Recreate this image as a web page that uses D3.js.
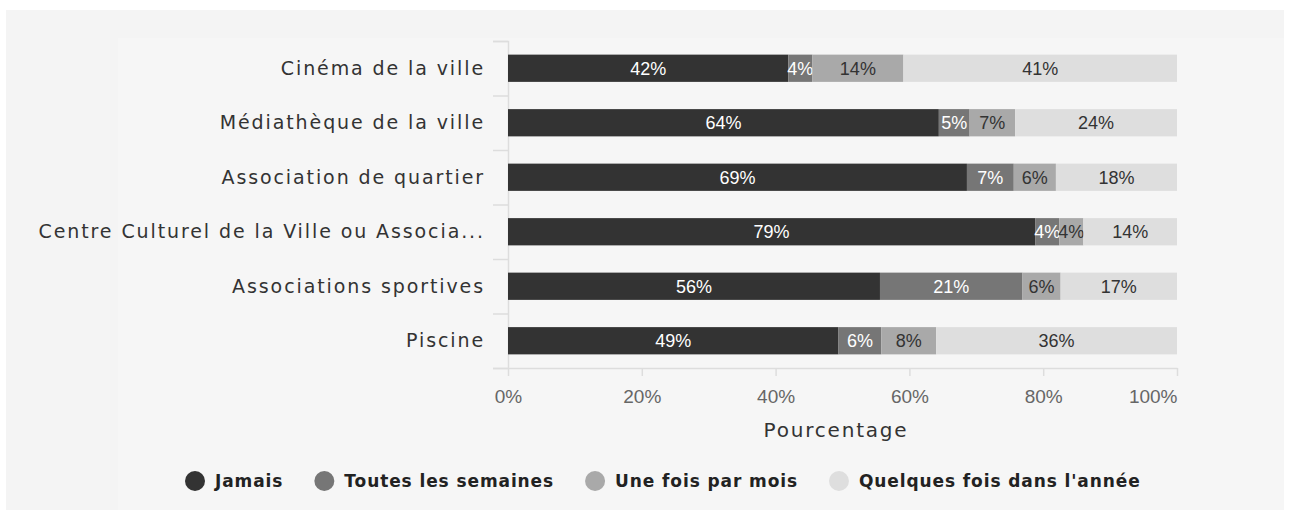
<!DOCTYPE html>
<html>
<head>
<meta charset="utf-8">
<script src="https://cdn.jsdelivr.net/npm/d3@7"></script>
<style>
  html, body { margin: 0; padding: 0; background: #ffffff; }
  svg { display: block; }
</style>
</head>
<body>
<div id="chart"></div>
<script>
// Données du graphique
const categories = [
    'Cinéma de la ville',
    'Médiathèque de la ville',
    'Association de quartier',
    'Centre Culturel de la Ville ou Associa...',
    'Associations sportives',
    'Piscine'
];
const seriesNames = ['Jamais', 'Toutes les semaines', 'Une fois par mois', "Quelques fois dans l'année"];
const jamais = [41.9, 64.4, 68.6, 78.8, 55.6, 49.4];
const semaines = [3.6, 4.6, 7.0, 3.6, 21.3, 6.4];
const mois = [13.6, 6.8, 6.3, 3.6, 5.7, 8.2];
const annee = [40.9, 24.2, 18.1, 14.0, 17.4, 36.0];
const xTicks = [0, 20, 40, 60, 80, 100];

const colors = ['#333333', '#767676', '#a9a9a9', '#dedede'];
const textColors = ['#ffffff', '#ffffff', '#333333', '#333333'];

const W = 1290, H = 516;
const svg = d3.select('#chart').append('svg')
    .attr('width', W)
    .attr('height', H);

// Fond
svg.append('rect').attr('x', 6).attr('y', 10).attr('width', 1278).attr('height', 500).attr('fill', '#f4f4f4');
svg.append('rect').attr('x', 118).attr('y', 38).attr('width', 1166).attr('height', 472).attr('fill', '#f6f6f6');

// Échelles
const x = d3.scaleLinear().domain([0, 100]).range([508, 1177]);
const y = d3.scaleBand().domain(categories).range([41, 368]).paddingInner(0.5).paddingOuter(0.25);
const yEdges = d3.scaleLinear().domain([0, categories.length]).range([41, 368]);

// Axe Y (traits entre les catégories)
const yAxis = svg.append('g')
    .attr('transform', 'translate(508,0)')
    .call(d3.axisLeft(yEdges).ticks(categories.length).tickSize(15).tickFormat(''));
yAxis.selectAll('path, line').attr('stroke', '#dddddd').attr('stroke-width', 1.5);

// Axe X
const xAxis = svg.append('g')
    .attr('transform', 'translate(0,368)')
    .call(d3.axisBottom(x).tickValues(xTicks).tickSize(8).tickSizeOuter(0).tickFormat(d => d + '%'));
xAxis.selectAll('path, line').attr('stroke', '#dddddd').attr('stroke-width', 1.5);
xAxis.selectAll('text')
    .attr('y', 22)
    .attr('fill', '#666666')
    .attr('text-anchor', d => d === 100 ? 'end' : 'middle')
    .style('font-family', '"Liberation Sans", Arial, sans-serif')
    .style('font-size', '19px');

// Libellés des catégories
svg.append('g').selectAll('text')
    .data(categories)
    .join('text')
    .attr('x', 485)
    .attr('y', d => y(d) + y.bandwidth() / 2)
    .attr('dy', '0.35em')
    .attr('text-anchor', 'end')
    .attr('fill', '#333333')
    .style('font-family', '"DejaVu Sans", sans-serif')
    .style('font-size', '19px')
    .style('letter-spacing', '1.9px')
    .text(d => d);

// Empilement
const table = categories.map((c, i) => ({
    cat: c,
    s0: jamais[i], s1: semaines[i], s2: mois[i], s3: annee[i]
}));
const stack = d3.stack().keys(['s0', 's1', 's2', 's3']);
const layers = stack(table);

const groups = svg.append('g').selectAll('g')
    .data(layers)
    .join('g');

groups.selectAll('rect')
    .data((layer, k) => layer.map(d => ({ d, k })))
    .join('rect')
    .attr('x', o => x(o.d[0]))
    .attr('y', o => y(o.d.data.cat))
    .attr('width', o => x(o.d[1]) - x(o.d[0]))
    .attr('height', y.bandwidth())
    .attr('fill', o => colors[o.k]);

groups.selectAll('text')
    .data((layer, k) => layer.map(d => ({ d, k })))
    .join('text')
    .attr('x', o => (x(o.d[0]) + x(o.d[1])) / 2)
    .attr('y', o => y(o.d.data.cat) + y.bandwidth() / 2)
    .attr('dy', '0.36em')
    .attr('text-anchor', 'middle')
    .attr('fill', o => textColors[o.k])
    .style('font-family', '"Liberation Sans", Arial, sans-serif')
    .style('font-size', '18px')
    .text(o => Math.round(o.d[1] - o.d[0]) + '%');

// Titre de l'axe X
svg.append('text')
    .attr('x', 836)
    .attr('y', 437)
    .attr('text-anchor', 'middle')
    .attr('fill', '#333333')
    .style('font-family', '"DejaVu Sans", sans-serif')
    .style('font-size', '20px')
    .style('letter-spacing', '1.8px')
    .text('Pourcentage');

// Légende
const legend = svg.append('g');
let lx = 185;
seriesNames.forEach((name, i) => {
    legend.append('circle')
        .attr('cx', lx + 10)
        .attr('cy', 481)
        .attr('r', 10)
        .attr('fill', colors[i]);
    const t = legend.append('text')
        .attr('x', lx + 30)
        .attr('y', 481)
        .attr('dy', '0.35em')
        .attr('fill', '#222222')
        .style('font-family', '"DejaVu Sans", sans-serif')
        .style('font-weight', 'bold')
        .style('font-size', '17px')
        .style('letter-spacing', '0.9px')
        .text(name);
    lx += 30 + t.node().getComputedTextLength() + 31;
});
</script>
</body>
</html>
